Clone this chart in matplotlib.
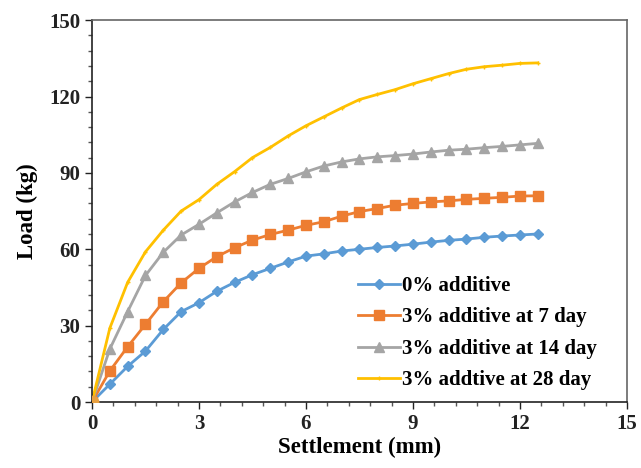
import matplotlib
matplotlib.use('Agg')
import matplotlib.pyplot as plt
from matplotlib.ticker import MultipleLocator

# settlement readings (mm)
settlement = [0, 0.5, 1, 1.5, 2, 2.5, 3, 3.5, 4, 4.5, 5, 5.5, 6, 6.5, 7, 7.5,
              8, 8.5, 9, 9.5, 10, 10.5, 11, 11.5, 12, 12.5]

# load (kg) per mix
load_0 = [0, 7, 14, 20, 28.5, 35.5, 39, 43.5, 47, 50, 52.5, 55, 57.3, 58.2, 59.3, 60,
          60.7, 61.3, 62, 62.8, 63.5, 64, 64.7, 65.2, 65.6, 66]
load_7 = [0, 12.2, 21.7, 30.5, 39.4, 46.8, 52.5, 57.1, 60.6, 63.6, 65.8, 67.5, 69.4, 70.8, 73, 74.8,
          76, 77.3, 78, 78.6, 79, 79.6, 80, 80.4, 80.9, 81]
load_14 = [0, 20.8, 35.5, 49.7, 58.8, 65.6, 69.8, 74.3, 78.6, 82.3, 85.5, 87.8, 90.4, 92.7, 94.3, 95.5,
           96.3, 96.8, 97.4, 98.2, 98.9, 99.3, 99.9, 100.4, 101, 101.6]
load_28 = [0, 29, 47, 59, 67.5, 75, 79.5, 85.5, 90.5, 96, 100, 104.5, 108.5, 112, 115.5, 118.8,
           120.8, 122.7, 125, 127, 129, 130.7, 131.7, 132.3, 133, 133.2]

labels = ['0% additive', '3% additive at 7 day', '3% additive at 14 day', '3% addtive at 28 day']

plt.rcParams['font.family'] = ['Liberation Serif', 'DejaVu Serif']
plt.rcParams['font.weight'] = 'bold'

fig = plt.figure(figsize=(6.41, 4.68), dpi=100)
ax = fig.add_axes([0.1435, 0.141, 0.8345, 0.816])

ax.plot(settlement, load_0, color='#5B9BD5', marker='D', markersize=5, linewidth=2, label=labels[0])
ax.plot(settlement, load_7, color='#ED7D31', marker='s', markersize=7, linewidth=2, label=labels[1])
ax.plot(settlement, load_14, color='#A5A5A5', marker='^', markersize=7, linewidth=2, label=labels[2])
ax.plot(settlement, load_28, color='#FFC000', marker='+', markersize=3, linewidth=2, label=labels[3])
# origin point shows as a blob where all markers overlap
ax.plot([settlement[0]], [load_7[0]], 'o', color='#E8A040', markersize=9, zorder=5)

ax.set_xlim(0, 15)
ax.set_ylim(0, 150)
ax.xaxis.set_major_locator(MultipleLocator(3))
ax.xaxis.set_minor_locator(MultipleLocator(0.6))
ax.yaxis.set_major_locator(MultipleLocator(30))
ax.yaxis.set_minor_locator(MultipleLocator(6))
ax.tick_params(which='major', direction='out', length=5, width=1, labelsize=15, colors='#222222')
ax.tick_params(which='minor', direction='out', length=3, width=1, colors='#555555')

for s in ax.spines.values():
    s.set_color('#666666')
    s.set_linewidth(1.2)
ax.spines['left'].set_color('#222222')
ax.spines['bottom'].set_color('#222222')

ax.set_xlabel('Settlement (mm)', fontsize=16.5, fontweight='bold', labelpad=2)
ax.set_ylabel('Load (kg)', fontsize=16.5, fontweight='bold', labelpad=8)

leg = ax.legend(loc='upper left', bbox_to_anchor=(0.497, 0.33), frameon=False,
                fontsize=15, handlelength=2.0, handletextpad=0.1, labelspacing=0.55,
                borderpad=0, borderaxespad=0)

fig.savefig('out.png', dpi=100)
